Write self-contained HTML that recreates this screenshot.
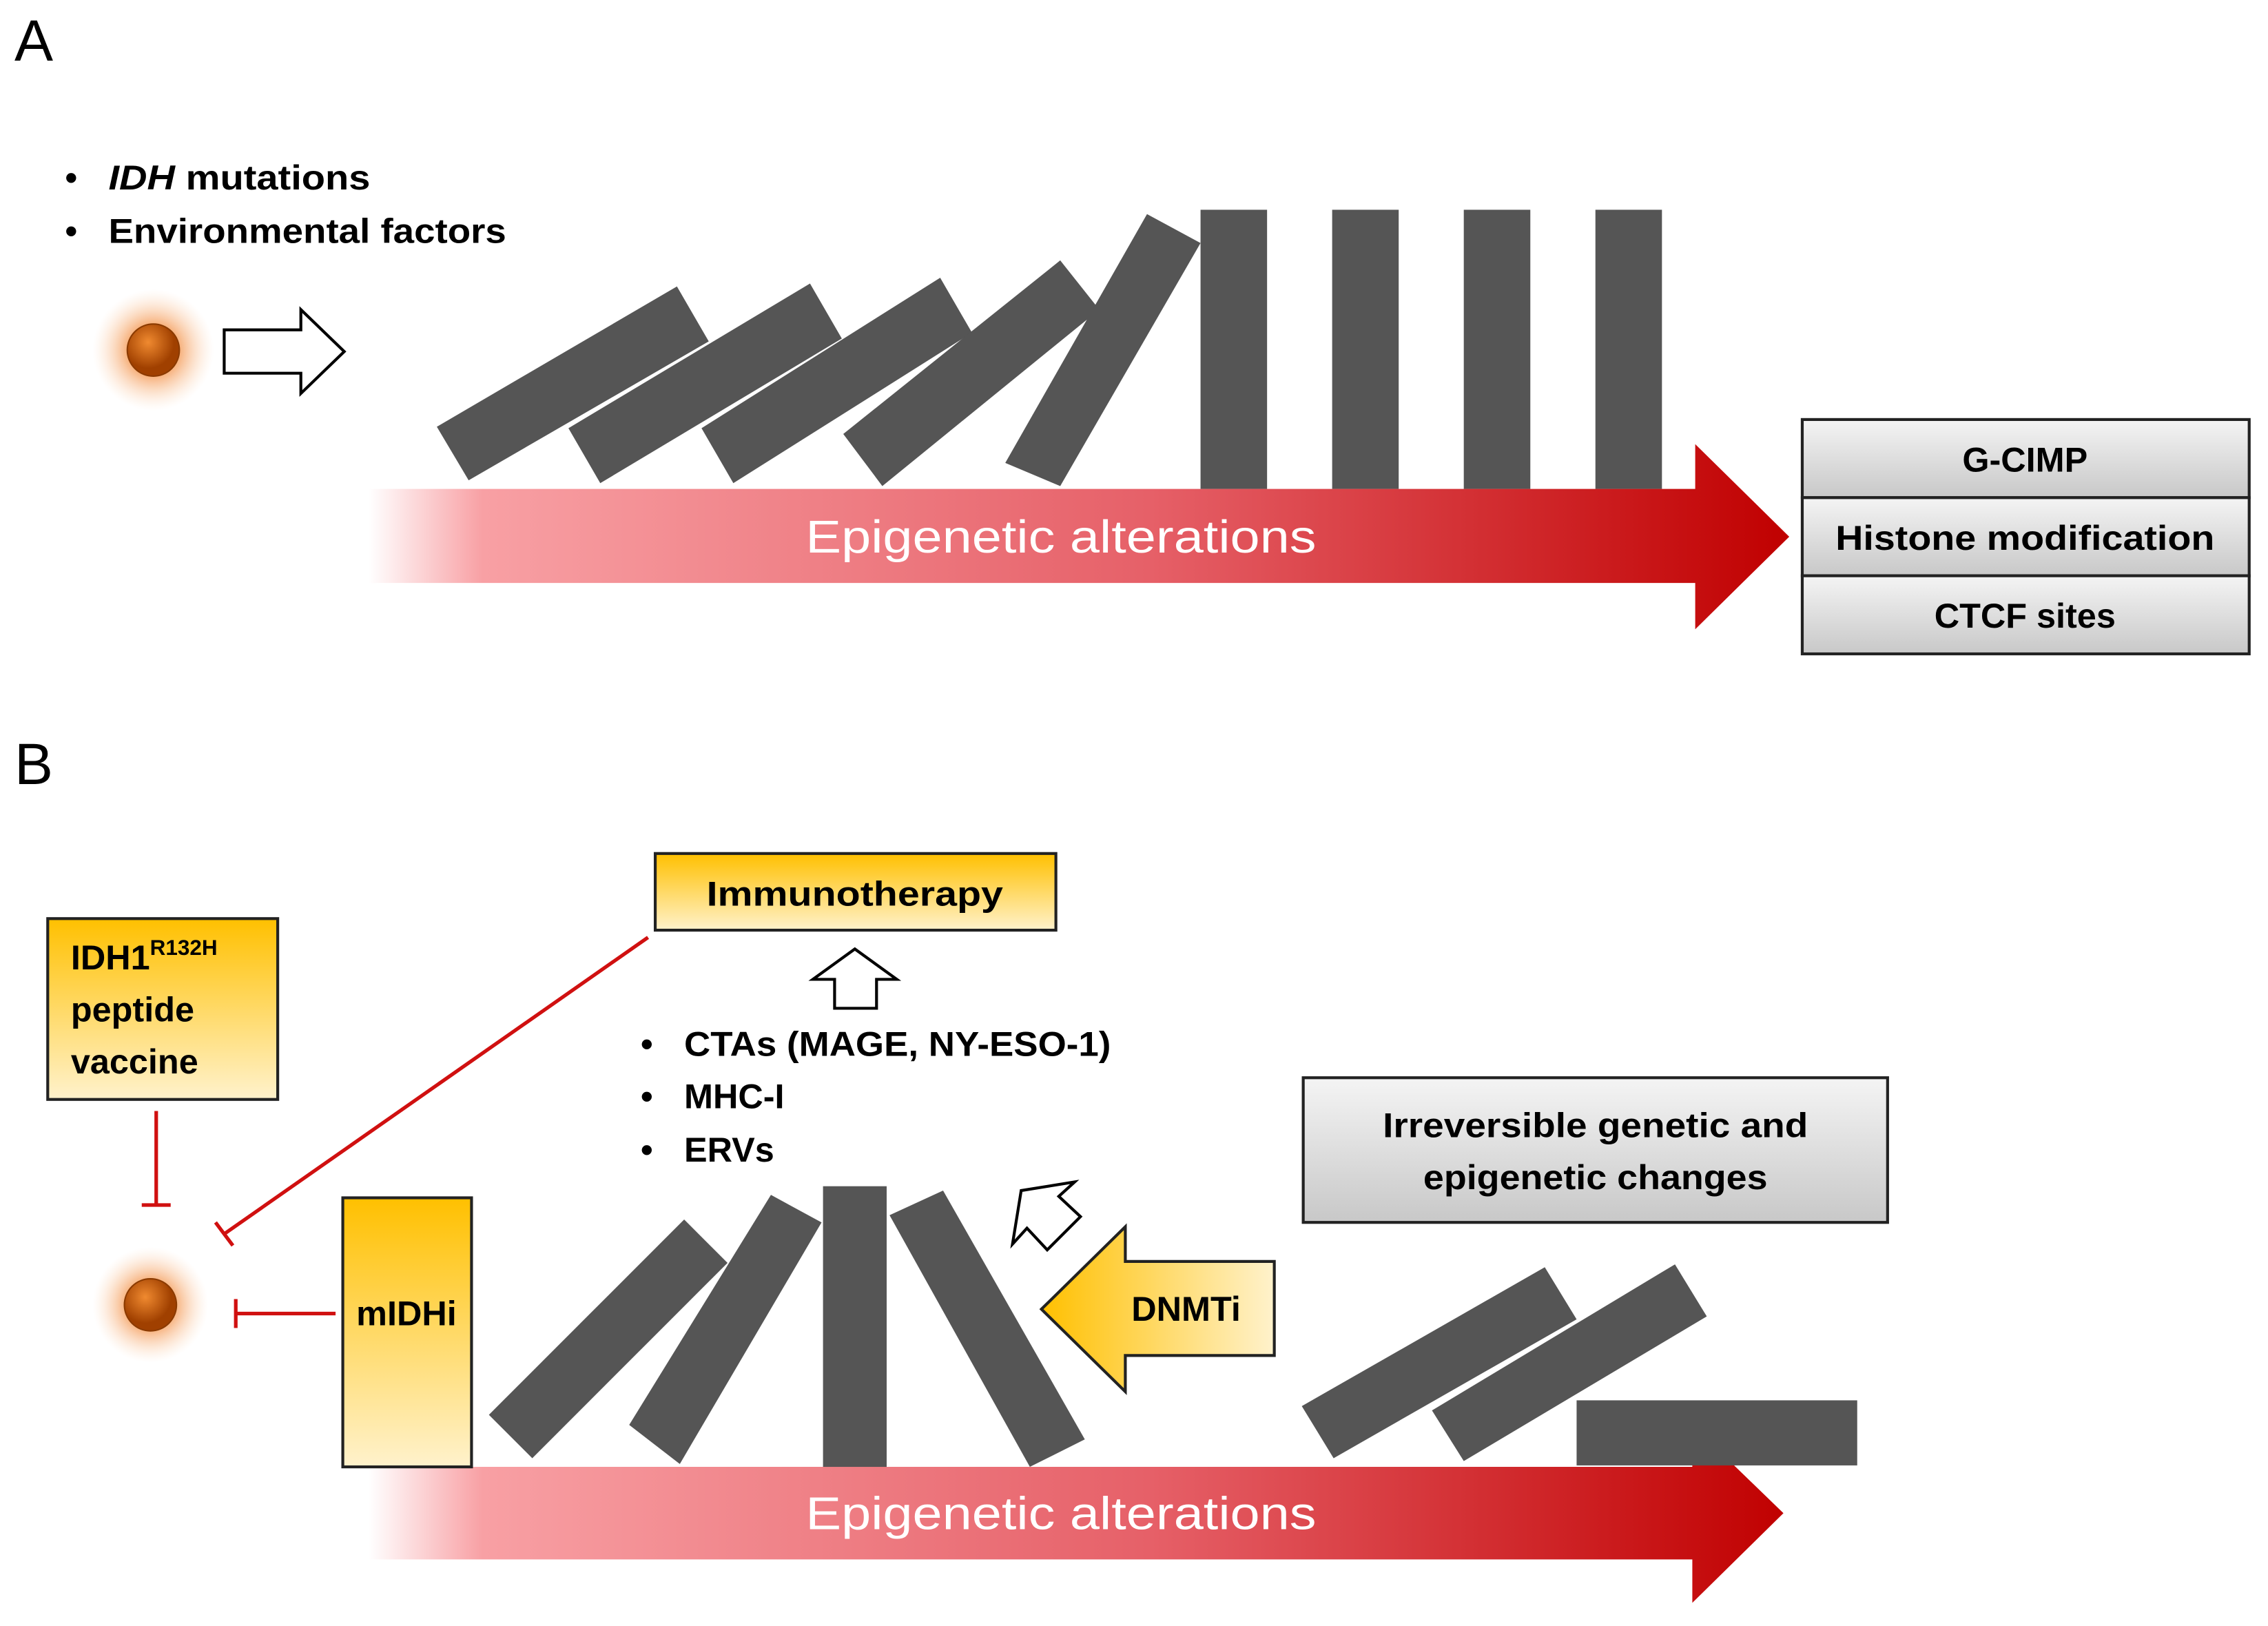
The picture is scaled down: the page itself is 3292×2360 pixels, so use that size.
<!DOCTYPE html>
<html><head><meta charset="utf-8"><style>
html,body{margin:0;padding:0;background:#fff;}
svg{display:block;}
text{font-family:"Liberation Sans",sans-serif;}
</style></head><body>
<svg width="3292" height="2360" viewBox="0 0 1568 1124" preserveAspectRatio="none" xmlns="http://www.w3.org/2000/svg">
<defs>
<linearGradient id="red" x1="255" y1="0" x2="1237" y2="0" gradientUnits="userSpaceOnUse">
<stop offset="0" stop-color="#ffffff"/><stop offset="0.08" stop-color="#f8a0a4"/><stop offset="0.55" stop-color="#e66068"/><stop offset="1" stop-color="#c00000"/>
</linearGradient>
<linearGradient id="gray" x1="0" y1="0" x2="0" y2="1"><stop offset="0" stop-color="#f4f4f4"/><stop offset="1" stop-color="#c8c8c8"/></linearGradient>
<linearGradient id="org" x1="0" y1="0" x2="0" y2="1"><stop offset="0" stop-color="#ffc000"/><stop offset="1" stop-color="#fff2cc"/></linearGradient>
<linearGradient id="orgh" x1="0" y1="0" x2="1" y2="0"><stop offset="0" stop-color="#ffc000"/><stop offset="1" stop-color="#fff2cc"/></linearGradient>
<radialGradient id="glow"><stop offset="0.4" stop-color="#f5a060" stop-opacity="0.9"/><stop offset="1" stop-color="#fde0c8" stop-opacity="0"/></radialGradient>
<radialGradient id="ball" cx="0.4" cy="0.35"><stop offset="0" stop-color="#f08a30"/><stop offset="1" stop-color="#a04000"/></radialGradient>
</defs>
<!-- A -->
<text x="10" y="42" font-size="40">A</text>
<text x="45" y="131" font-size="24" font-weight="bold">•</text>
<text x="75" y="131" font-size="24" font-weight="bold" textLength="181" lengthAdjust="spacingAndGlyphs"><tspan font-style="italic">IDH</tspan> mutations</text>
<text x="45" y="168" font-size="24" font-weight="bold">•</text>
<text x="75" y="168" font-size="24" font-weight="bold" textLength="275" lengthAdjust="spacingAndGlyphs">Environmental factors</text>
<circle cx="106" cy="242" r="42" fill="url(#glow)"/>
<circle cx="106" cy="242" r="18" fill="url(#ball)" stroke="#8a3a00" stroke-width="1"/>
<polygon points="155,228 208,228 208,214 238,243 208,272 208,258 155,258" fill="#fff" stroke="#000" stroke-width="2"/>
<g fill="#555">
<polygon points="302,295 468,198 490,236 324,332"/>
<polygon points="393,296 560,196 582,234 415,334"/>
<polygon points="485,296 650,192 672,230 507,334"/>
<polygon points="583,300 733,180 760,214 610,336"/>
<polygon points="695,320 793,148 830,168 733,336"/>
<rect x="830" y="145" width="46" height="193"/>
<rect x="921" y="145" width="46" height="193"/>
<rect x="1012" y="145" width="46" height="193"/>
<rect x="1103" y="145" width="46" height="193"/>
</g>
<polygon points="255,338 1172,338 1172,307 1237,371 1172,435 1172,403 255,403" fill="url(#red)"/>
<text x="557" y="382" font-size="32" fill="#fff" textLength="353" lengthAdjust="spacingAndGlyphs">Epigenetic alterations</text>
<g stroke="#222" stroke-width="2" fill="url(#gray)">
<rect x="1246" y="290" width="309" height="54"/>
<rect x="1246" y="344" width="309" height="54"/>
<rect x="1246" y="398" width="309" height="54"/>
</g>
<g font-size="24" font-weight="bold" text-anchor="middle">
<text x="1400" y="326">G-CIMP</text>
<text x="1400" y="380" textLength="262" lengthAdjust="spacingAndGlyphs">Histone modification</text>
<text x="1400" y="434">CTCF sites</text>
</g>
<!-- B -->
<text x="10" y="542" font-size="40">B</text>
<rect x="453" y="590" width="277" height="53" fill="url(#org)" stroke="#222" stroke-width="2"/>
<text x="591" y="626" font-size="24" font-weight="bold" text-anchor="middle" textLength="205" lengthAdjust="spacingAndGlyphs">Immunotherapy</text>
<rect x="33" y="635" width="159" height="125" fill="url(#org)" stroke="#222" stroke-width="2"/>
<text x="49" y="670" font-size="24" font-weight="bold">IDH1<tspan font-size="15" dy="-10">R132H</tspan></text>
<text x="49" y="706" font-size="24" font-weight="bold">peptide</text>
<text x="49" y="742" font-size="24" font-weight="bold">vaccine</text>
<polygon points="591,656 620,677 606,677 606,697 577,697 577,677 562,677" fill="#fff" stroke="#000" stroke-width="2"/>
<g font-size="24" font-weight="bold">
<text x="443" y="730">•</text><text x="473" y="730" textLength="295" lengthAdjust="spacingAndGlyphs">CTAs (MAGE, NY-ESO-1)</text>
<text x="443" y="766">•</text><text x="473" y="766">MHC-I</text>
<text x="443" y="803">•</text><text x="473" y="803">ERVs</text>
</g>
<rect x="901" y="745" width="404" height="100" fill="url(#gray)" stroke="#222" stroke-width="2"/>
<text x="1103" y="786" font-size="24" font-weight="bold" text-anchor="middle" textLength="294" lengthAdjust="spacingAndGlyphs">Irreversible genetic and</text>
<text x="1103" y="822" font-size="24" font-weight="bold" text-anchor="middle" textLength="238" lengthAdjust="spacingAndGlyphs">epigenetic changes</text>
<g stroke="#d01010" stroke-width="2.5" fill="none">
<line x1="448" y1="648" x2="155" y2="853"/>
<line x1="149" y1="845" x2="161" y2="861"/>
<line x1="108" y1="768" x2="108" y2="833"/>
<line x1="98" y1="833" x2="118" y2="833"/>
<line x1="232" y1="908" x2="163" y2="908"/>
<line x1="163" y1="898" x2="163" y2="918"/>
</g>
<circle cx="104" cy="902" r="40" fill="url(#glow)"/>
<circle cx="104" cy="902" r="18" fill="url(#ball)" stroke="#8a3a00" stroke-width="1"/>
<polygon points="255,1014 1170,1014 1170,985 1233,1046 1170,1108 1170,1078 255,1078" fill="url(#red)"/>
<text x="557" y="1057" font-size="32" fill="#fff" textLength="353" lengthAdjust="spacingAndGlyphs">Epigenetic alterations</text>
<rect x="237" y="828" width="89" height="186" fill="url(#org)" stroke="#222" stroke-width="2"/>
<text x="281" y="916" font-size="24" font-weight="bold" text-anchor="middle">mIDHi</text>
<g fill="#555">
<polygon points="338,978 473,843 503,873 368,1008"/>
<polygon points="435,985 533,826 568,845 470,1012"/>
<rect x="569" y="820" width="44" height="194"/>
<polygon points="615,840 652,823 750,995 712,1014"/>
<polygon points="900,972 1068,876 1090,912 922,1008"/>
<polygon points="990,975 1158,874 1180,910 1012,1010"/>
<rect x="1090" y="968" width="194" height="45"/>
</g>
<polygon points="743,817 706,823 700,860 710,849 724,864 747,841 732,827" fill="#fff" stroke="#000" stroke-width="2" stroke-linejoin="miter"/>
<polygon points="720,905 778,848 778,872 881,872 881,937 778,937 778,962" fill="url(#orgh)" stroke="#222" stroke-width="2"/>
<text x="820" y="913" font-size="24" font-weight="bold" text-anchor="middle">DNMTi</text>
</svg>
</body></html>
